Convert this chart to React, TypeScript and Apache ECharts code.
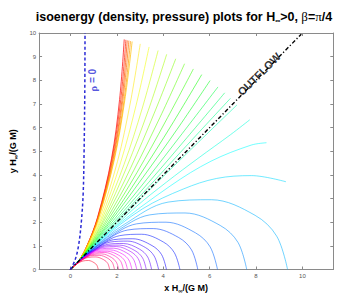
import React, { useEffect, useRef } from "react";
import * as echarts from "echarts";

const xTicks = [0, 2, 4, 6, 8, 10];
const yTicks = [0, 1, 2, 3, 4, 5, 6, 7, 8, 9, 10];

// rho = 0 boundary
const rhoZero = [[0, 0], [0.2, 0.4], [0.35, 1], [0.47, 2], [0.55, 3.2], [0.59, 5], [0.62, 7.5], [0.63, 10]];
// outflow direction
const outflow = [[0, 0], [9.95, 9.95]];

// upper-left bundle of contours (red/orange)
const redBundle = [
  [[0, 0], [0.35, 0.35], [0.70, 0.97], [1.17, 2.21], [1.77, 4.68], [2.12, 7.19], [2.32, 9.73]],
  [[0, 0], [0.35, 0.35], [0.70, 0.97], [1.18, 2.20], [1.79, 4.67], [2.17, 7.18], [2.39, 9.71]],
  [[0, 0], [0.35, 0.35], [0.71, 0.97], [1.19, 2.20], [1.82, 4.66], [2.22, 7.16], [2.45, 9.69]],
  [[0, 0], [0.35, 0.35], [0.71, 0.97], [1.20, 2.19], [1.84, 4.65], [2.26, 7.15], [2.52, 9.68]],
  [[0, 0], [0.35, 0.35], [0.71, 0.97], [1.21, 2.19], [1.87, 4.64], [2.31, 7.14], [2.59, 9.66]],
  [[0, 0], [0.35, 0.35], [0.71, 0.97], [1.22, 2.18], [1.89, 4.63], [2.34, 7.13], [2.66, 9.64]],
];

// fan of contours between the bundle and the outflow line
const fanLines = [
  [[0, 0], [0.35, 0.35], [0.72, 0.96], [1.26, 2.16], [2.03, 4.57], [2.58, 7.04], [3.01, 9.54]],
  [[0, 0], [0.35, 0.35], [0.73, 0.95], [1.31, 2.13], [2.16, 4.51], [2.83, 6.94], [3.39, 9.41]],
  [[0, 0], [0.35, 0.35], [0.74, 0.94], [1.35, 2.10], [2.31, 4.44], [3.10, 6.83], [3.78, 9.26]],
  [[0, 0], [0.35, 0.35], [0.76, 0.93], [1.40, 2.07], [2.44, 4.36], [3.35, 6.71], [4.15, 9.10]],
  [[0, 0], [0.35, 0.35], [0.77, 0.92], [1.44, 2.04], [2.59, 4.28], [3.60, 6.58], [4.54, 8.91]],
  [[0, 0], [0.35, 0.35], [0.78, 0.91], [1.49, 2.00], [2.73, 4.19], [3.86, 6.43], [4.92, 8.70]],
  [[0, 0], [0.35, 0.35], [0.79, 0.90], [1.54, 1.97], [2.87, 4.10], [4.11, 6.28], [5.30, 8.48]],
  [[0, 0], [0.35, 0.35], [0.80, 0.89], [1.59, 1.93], [3.00, 4.00], [4.36, 6.11], [5.66, 8.24]],
  [[0, 0], [0.35, 0.35], [0.81, 0.88], [1.63, 1.90], [3.13, 3.90], [4.60, 5.93], [6.02, 7.99]],
  [[0, 0], [0.35, 0.35], [0.82, 0.87], [1.67, 1.86], [3.27, 3.79], [4.82, 5.75], [6.36, 7.72]],
  [[0, 0], [0.35, 0.35], [0.83, 0.86], [1.71, 1.82], [3.38, 3.69], [5.02, 5.57], [6.65, 7.47]],
  [[0, 0], [0.35, 0.35], [0.84, 0.85], [1.74, 1.79], [3.47, 3.60], [5.18, 5.42], [6.90, 7.24]],
];

// contours just below the outflow line, cut by r = 10
const outerArcs = [
  [[0, 0], [0.35, 0.35], [1.7, 1.69], [3.5, 3.45], [5.2, 5.08], [7.18, 6.96]],
  [[0, 0], [0.35, 0.35], [1.4, 1.33], [2.8, 2.63], [4.15, 3.7], [5.5, 4.7], [6.9, 5.7], [7.73, 6.33]],
  [[0, 0], [0.35, 0.34], [1.73, 1.64], [4.33, 3.55], [6.06, 4.58], [7.79, 5.26], [8.45, 5.36]],
  [[0, 0], [0.35, 0.34], [1.25, 1.19], [3.1, 2.56], [4.86, 3.4], [6.3, 3.85], [7.8, 3.97], [9.29, 3.71]],
];

// closed arcs reaching the x axis (largest first)
const lowerArcs = [
  [[0, 0], [0.33, 0.33], [0.94, 0.89], [2.34, 1.92], [4.21, 2.85], [6.08, 2.95], [7.96, 2.29], [8.89, 1.41], [9.36, 0]],
  [[0, 0], [0.27, 0.27], [0.76, 0.72], [1.9, 1.56], [3.42, 2.31], [4.94, 2.39], [6.46, 1.86], [7.22, 1.15], [7.6, 0]],
  [[0, 0], [0.22, 0.22], [0.63, 0.60], [1.59, 1.30], [2.85, 1.93], [4.12, 2.0], [5.39, 1.55], [6.02, 0.96], [6.34, 0]],
  [[0, 0], [0.19, 0.19], [0.55, 0.52], [1.37, 1.13], [2.47, 1.67], [3.57, 1.73], [4.67, 1.35], [5.22, 0.83], [5.49, 0]],
  [[0, 0], [0.17, 0.17], [0.47, 0.45], [1.18, 0.97], [2.12, 1.43], [3.07, 1.49], [4.01, 1.16], [4.48, 0.71], [4.72, 0]],
  [[0, 0], [0.41, 0.39], [1.04, 0.85], [1.86, 1.26], [2.69, 1.30], [3.52, 1.01], [3.93, 0.63], [4.14, 0]],
  [[0, 0], [0.38, 0.36], [0.95, 0.78], [1.71, 1.16], [2.47, 1.20], [3.23, 0.93], [3.61, 0.57], [3.8, 0]],
  [[0, 0], [0.35, 0.33], [0.88, 0.72], [1.58, 1.06], [2.28, 1.10], [2.98, 0.86], [3.33, 0.53], [3.5, 0]],
  [[0, 0], [0.33, 0.31], [0.82, 0.67], [1.47, 0.99], [2.13, 1.03], [2.78, 0.80], [3.11, 0.49], [3.27, 0]],
  [[0, 0], [0.31, 0.29], [0.77, 0.63], [1.38, 0.93], [2.0, 0.97], [2.61, 0.75], [2.92, 0.46], [3.07, 0]],
  [[0, 0], [0.29, 0.27], [0.72, 0.59], [1.29, 0.87], [1.86, 0.90], [2.43, 0.70], [2.72, 0.43], [2.86, 0]],
  [[0, 0], [0.27, 0.25], [0.66, 0.54], [1.19, 0.81], [1.72, 0.83], [2.25, 0.65], [2.52, 0.40], [2.65, 0]],
  [[0, 0], [0.25, 0.23], [0.62, 0.50], [1.11, 0.75], [1.60, 0.77], [2.09, 0.60], [2.34, 0.37], [2.46, 0]],
  [[0, 0], [0.23, 0.22], [0.57, 0.47], [1.03, 0.69], [1.48, 0.72], [1.94, 0.56], [2.17, 0.34], [2.28, 0]],
  [[0, 0], [0.21, 0.20], [0.52, 0.43], [0.94, 0.63], [1.35, 0.66], [1.77, 0.51], [1.98, 0.31], [2.08, 0]],
  [[0, 0], [0.19, 0.18], [0.48, 0.39], [0.86, 0.58], [1.24, 0.60], [1.62, 0.47], [1.81, 0.29], [1.9, 0]],
  [[0, 0], [0.17, 0.16], [0.42, 0.35], [0.76, 0.51], [1.10, 0.53], [1.44, 0.41], [1.61, 0.26], [1.69, 0]],
  [[0, 0], [0.12, 0.11], [0.30, 0.25], [0.54, 0.36], [0.78, 0.38], [1.02, 0.29], [1.14, 0.18], [1.2, 0]],
];

const outflowLabelPos = [[8.13, 8.26]];
const rhoLabelPos = [[0.97, 8.0]];

const FONT = "'Liberation Sans', Arial, sans-serif";
const SERIF = "'Liberation Serif', 'Times New Roman', serif";
const AXIS_GRAY = "#8a8a8a";

export default function App() {
  const ref = useRef<HTMLDivElement>(null);

  useEffect(() => {
    if (!ref.current) return;
    const chart = echarts.init(ref.current, undefined, { renderer: "svg" });
    const allCurves = [...redBundle, ...fanLines, ...outerArcs, ...lowerArcs];
    const n = allCurves.length;
    const contourSeries = allCurves.map((pts, i) => ({
      type: "line",
      data: pts,
      showSymbol: false,
      smooth: 0.35,
      silent: true,
      z: 2,
      lineStyle: { color: `hsl(${(i * 360) / n}, 100%, 50%)`, width: 0.8, opacity: i < redBundle.length ? 0.9 : 0.7 },
    }));

    const subRich = {
      sub: { fontSize: 6, fontWeight: "bold", fontFamily: FONT, color: "#000", padding: [6, 0, 0, 0] },
    };

    const baseX = {
      type: "value",
      min: -1.35,
      max: 11.33,
      splitLine: { show: false },
      axisLine: { show: true, onZero: false, lineStyle: { color: AXIS_GRAY, width: 1 } },
      axisTick: { show: true, inside: true, length: 3, customValues: xTicks, lineStyle: { color: AXIS_GRAY } },
    };
    const baseY = {
      type: "value",
      min: 0,
      max: 10,
      interval: 1,
      splitLine: { show: false },
      axisLine: { show: true, onZero: false, lineStyle: { color: AXIS_GRAY, width: 1 } },
      axisTick: { show: true, inside: true, length: 3, customValues: yTicks, lineStyle: { color: AXIS_GRAY } },
    };

    chart.setOption({
      animation: false,
      backgroundColor: "#fff",
      grid: { left: 33, top: 33, right: 20.7, bottom: 31.5, containLabel: false },
      graphic: [
        {
          type: "text",
          x: 184,
          y: 16.5,
          style: {
            text: "isoenergy (density, pressure) plots for H{s|∞}>0, {g|β}={g|π}/4",
            fill: "#000",
            font: `bold 12.5px ${FONT}`,
            align: "center",
            verticalAlign: "middle",
            rich: {
              s: { fontSize: 7, fontWeight: "bold", fontFamily: FONT, fill: "#000", padding: [8, 0, 0, 0] },
              g: { fontSize: 13, fontFamily: SERIF, fill: "#000" },
            },
          },
        },
      ],
      xAxis: [
        {
          ...baseX,
          position: "bottom",
          axisLabel: { show: true, customValues: xTicks, fontSize: 6, color: "#555", margin: 3, fontFamily: FONT },
          name: "x H{sub|∞}/(G M)",
          nameLocation: "middle",
          nameGap: 9,
          nameTextStyle: { fontSize: 9, fontWeight: "bold", color: "#000", fontFamily: FONT, rich: subRich },
        },
        { ...baseX, position: "top", axisLabel: { show: false } },
      ],
      yAxis: [
        {
          ...baseY,
          position: "left",
          axisLabel: { show: true, customValues: yTicks, fontSize: 6, color: "#555", margin: 3, fontFamily: FONT },
          name: "y H{sub|∞}/(G M)",
          nameLocation: "middle",
          nameGap: 16,
          nameTextStyle: { fontSize: 9, fontWeight: "bold", color: "#000", fontFamily: FONT, rich: subRich },
        },
        { ...baseY, position: "right", axisLabel: { show: false } },
      ],
      series: [
        ...contourSeries,
        {
          type: "line",
          data: outflow,
          showSymbol: false,
          silent: true,
          z: 5,
          lineStyle: { color: "#000", width: 1.4, type: [4, 2.2, 1.2, 2.2] },
        },
        {
          type: "line",
          data: rhoZero,
          showSymbol: false,
          smooth: 0.35,
          silent: true,
          z: 5,
          lineStyle: { color: "#2b2bd6", width: 1.5, type: [3, 2.4] },
        },
        {
          type: "scatter",
          data: outflowLabelPos,
          symbolSize: 0,
          silent: true,
          z: 6,
          label: {
            show: true,
            position: "inside",
            formatter: "OUTFLOW",
            rotate: 45,
            fontSize: 11,
            fontWeight: "bold",
            color: "#000",
            fontFamily: FONT,
          },
        },
        {
          type: "scatter",
          data: rhoLabelPos,
          symbolSize: 0,
          silent: true,
          z: 6,
          label: {
            show: true,
            position: "inside",
            formatter: "{g|ρ} = 0",
            rotate: 90,
            fontSize: 10,
            fontWeight: "bold",
            color: "#2b2bd6",
            fontFamily: FONT,
            rich: { g: { fontSize: 11, fontFamily: SERIF, fontWeight: "bold", color: "#2b2bd6" } },
          },
        },
      ],
    });
    return () => chart.dispose();
  }, []);

  return <div ref={ref} style={{ position: "absolute", left: 0, top: 0, width: 354, height: 301 }} />;
}
